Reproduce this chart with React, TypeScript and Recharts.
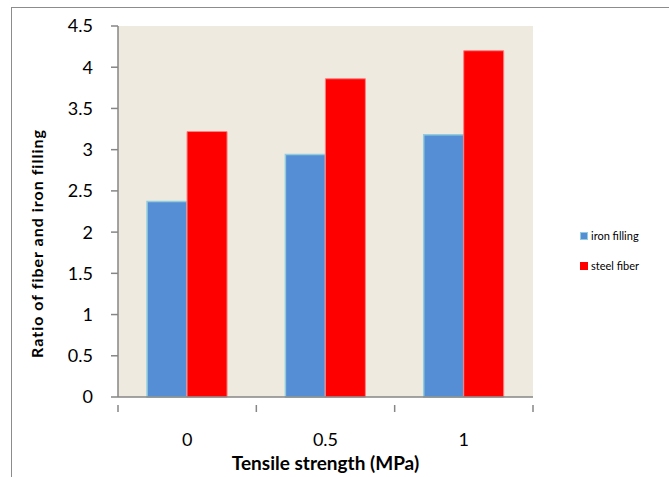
import React from 'react';
import { BarChart, Bar, XAxis, YAxis, CartesianGrid } from 'recharts';

const categories = ['0', '0.5', '1'];
const ironFilling = [2.37, 2.94, 3.18];
const steelFiber = [3.22, 3.86, 4.2];
const yTicks = [0, 0.5, 1, 1.5, 2, 2.5, 3, 3.5, 4, 4.5];
const seriesNames = ['iron filling', 'steel fiber'];

const data = categories.map((c, i) => ({
  name: c,
  iron: ironFilling[i],
  steel: steelFiber[i],
}));

const FONT = 'Lato, "Open Sans", sans-serif';
const AXIS = '#868686';
const PLOT_LEFT = 118;
const PLOT_RIGHT = 533;
const BAND = (PLOT_RIGHT - PLOT_LEFT) / categories.length;

function XTick(props: any) {
  const { x, y, payload, index } = props;
  return (
    <g>
      <line x1={x - BAND / 2} y1={y} x2={x - BAND / 2} y2={y + 7} stroke={AXIS} strokeWidth={1.5} />
      {index === categories.length - 1 && (
        <line x1={x + BAND / 2} y1={y} x2={x + BAND / 2} y2={y + 7} stroke={AXIS} strokeWidth={1.5} />
      )}
      <text x={x} y={y + 41} textAnchor="middle" fontSize={18} fill="#000" fontFamily={FONT}>
        {payload.value}
      </text>
    </g>
  );
}

function YTitle(props: any) {
  const vb = props.viewBox;
  const cx = vb.x + 43;
  const cy = vb.y + vb.height / 2 + 32;
  return (
    <text
      x={cx}
      y={cy}
      transform={`rotate(-90, ${cx}, ${cy})`}
      textAnchor="middle"
      fontFamily={FONT}
      fontSize={16}
      fontWeight={700}
      letterSpacing={1}
      fill="#000"
    >
      Ratio of fiber and iron filling
    </text>
  );
}

function ChartLegend() {
  const items = [
    { label: seriesNames[0], color: '#558ED5', border: '#93CDDD' },
    { label: seriesNames[1], color: '#FF0000', border: '#FF0000' },
  ];
  return (
    <div style={{ position: 'absolute', left: 580, top: 228, fontFamily: FONT, fontSize: 11, color: '#000' }}>
      {items.map((it) => (
        <div key={it.label} style={{ display: 'flex', alignItems: 'center', height: 15, marginBottom: 15 }}>
          <span
            style={{
              display: 'inline-block',
              width: 6,
              height: 6,
              background: it.color,
              border: `1px solid ${it.border}`,
              marginRight: 3,
            }}
          />
          {it.label}
        </div>
      ))}
    </div>
  );
}

export default function App() {
  return (
    <div style={{ position: 'absolute', left: 0, top: 0, width: 669, height: 477, background: '#fff', overflow: 'hidden' }}>
      <div
        style={{
          position: 'absolute',
          left: 11,
          top: 7,
          width: 700,
          height: 500,
          border: '1.5px solid #8c8c8c',
        }}
      />
      <BarChart
        width={669}
        height={477}
        data={data}
        margin={{ top: 26, right: 669 - PLOT_RIGHT, bottom: 0, left: 0 }}
        barCategoryGap="21%"
        barGap={0}
        style={{ position: 'absolute', left: 0, top: 0 }}
      >
        <CartesianGrid horizontal={false} vertical={false} fill="#EEEAE0" />
        <XAxis
          dataKey="name"
          height={80}
          stroke={AXIS}
          strokeWidth={1.5}
          tickLine={false}
          tick={<XTick />}
          interval={0}
          label={{
            value: 'Tensile strength (MPa)',
            position: 'insideBottom',
            offset: 7,
            style: { fontFamily: FONT, fontSize: 19, fontWeight: 700, fill: '#000' },
          }}
        />
        <YAxis
          width={PLOT_LEFT}
          domain={[0, 4.5]}
          ticks={yTicks}
          interval={0}
          stroke={AXIS}
          strokeWidth={1.5}
          tickSize={7}
          tickMargin={18}
          tick={{ fontSize: 18, fill: '#000', fontFamily: FONT }}
          label={{ content: <YTitle /> }}
        />
        <Bar dataKey="iron" name={seriesNames[0]} fill="#558ED5" stroke="#93CDDD" strokeWidth={1.5} isAnimationActive={false} />
        <Bar dataKey="steel" name={seriesNames[1]} fill="#FF0000" stroke="#FF8080" strokeWidth={1} isAnimationActive={false} />
      </BarChart>
      <ChartLegend />
    </div>
  );
}
